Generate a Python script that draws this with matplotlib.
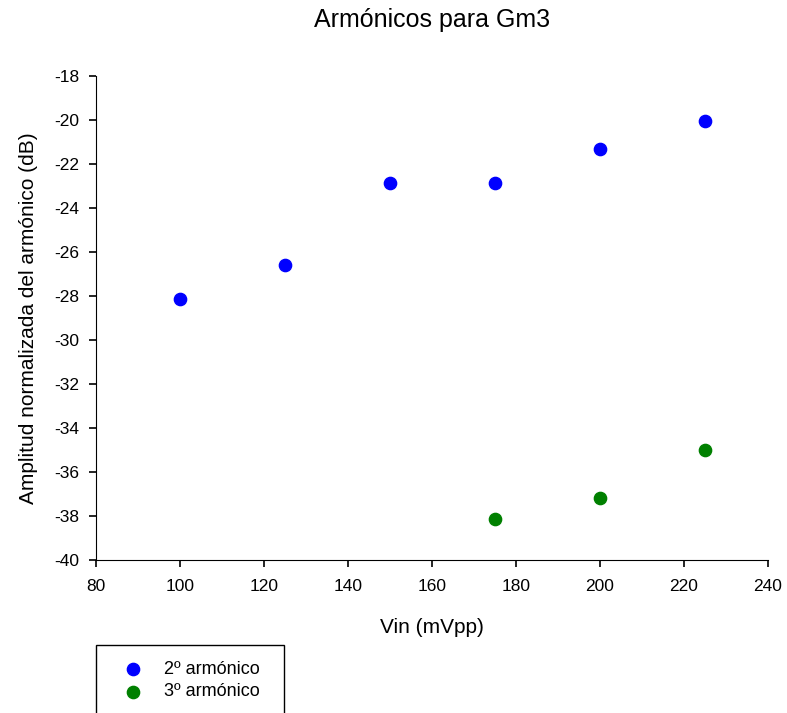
import matplotlib
matplotlib.use("Agg")
import matplotlib.pyplot as plt
from matplotlib.patches import Rectangle

plt.rcParams['font.family'] = ['Liberation Sans', 'DejaVu Sans']
plt.rcParams['axes.unicode_minus'] = False

vin_2nd = [100, 125, 150, 175, 200, 225]
amp_2nd = [-28.15, -26.6, -22.85, -22.85, -21.3, -20.05]
vin_3rd = [175, 200, 225]
amp_3rd = [-38.15, -37.2, -35.0]

W, H = 787, 713
fig = plt.figure(figsize=(W / 100, H / 100), dpi=100)
ax = fig.add_axes([96 / W, 1 - 560 / H, (768 - 96) / W, (560 - 76) / H])

ax.scatter(vin_2nd, amp_2nd, s=78, color='#0000ff', label='2º armónico', zorder=3)
ax.scatter(vin_3rd, amp_3rd, s=78, color='#008000', label='3º armónico', zorder=3)

ax.set_xlim(80, 240)
ax.set_ylim(-40, -18)
ax.set_xticks(range(80, 241, 20))
ax.set_yticks(range(-40, -17, 2))
ax.spines['top'].set_visible(False)
ax.spines['right'].set_visible(False)
ax.tick_params(direction='out', length=5, width=1.2, labelsize=12.5)
ax.tick_params(axis='x', pad=9)
ax.tick_params(axis='y', pad=7)

ax.set_xlabel('Vin (mVpp)', fontsize=15, labelpad=17)
ax.set_ylabel('Amplitud normalizada del armónico (dB)', fontsize=15, labelpad=12)
ax.set_title('Armónicos para Gm3', fontsize=18, pad=35)

# legend box runs past the lower edge of the figure
fig.add_artist(Rectangle((96 / W, 1 - 740 / H), (284 - 96) / W, (740 - 645) / H,
                         transform=fig.transFigure, fill=False,
                         edgecolor='black', linewidth=1.0))
leg = fig.legend(loc='upper left', bbox_to_anchor=(115 / W, 1 - 661 / H),
                 fontsize=13, frameon=False, borderpad=0, borderaxespad=0,
                 handlelength=2.0, handletextpad=0.7, labelspacing=0.3)

fig.savefig('out.png', dpi=100)
